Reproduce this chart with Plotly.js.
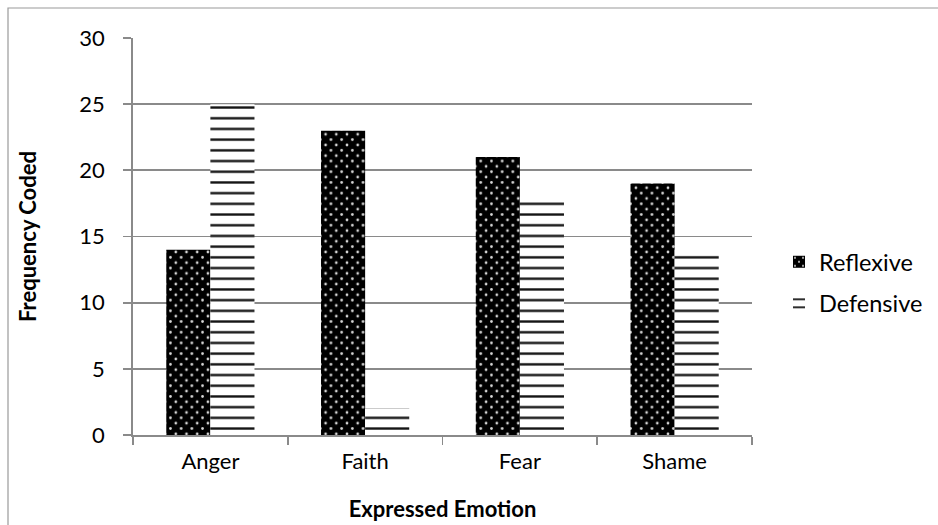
<!DOCTYPE html>
<html>
<head>
<meta charset="utf-8">
<script src="https://cdn.plot.ly/plotly-3.0.1.min.js"></script>
<style>
  html, body { margin: 0; padding: 0; background: #fff; }
  #chart { width: 938px; height: 525px; }
</style>
</head>
<body>
<div id="chart"></div>
<script>
// Expressed emotions and how often each was coded
const emotions = ["Anger", "Faith", "Fear", "Shame"];
const reflexive = [14, 23, 21, 19];
const defensive = [25, 2, 18, 14];
const yTicks = [0, 5, 10, 15, 20, 25, 30];

const FONT = "Lato, 'Open Sans', sans-serif";
const GRID = "#8a8a8a";

// Plot area in pixels, used to place the frame lines in paper units
const L = 133, R = 752, T = 38, B = 435;
const px = x => (x - L) / (R - L);
const py = y => (B - y) / (B - T);

const traces = [
  {
    type: "bar",
    name: "Reflexive",
    x: emotions,
    y: reflexive,
    legendgroup: "r",
    marker: {
      color: "#000000",
      line: { width: 0 },
      pattern: { shape: ".", bgcolor: "#000000", fgcolor: "#d8d8d8", size: 10.7, solidity: 0.05, fillmode: "replace" }
    },
    hoverinfo: "x+y+name"
  },
  {
    type: "bar",
    name: "Defensive",
    x: emotions,
    y: defensive,
    legendgroup: "d",
    marker: {
      color: "#ffffff",
      line: { width: 0 },
      pattern: { shape: "-", bgcolor: "#ffffff", fgcolor: "#111111", size: 10.7, solidity: 0.22, fillmode: "replace" }
    },
    hoverinfo: "x+y+name"
  }
];

const layout = {
  width: 938,
  height: 525,
  margin: { l: L, r: 938 - R, t: T, b: 525 - B, autoexpand: false },
  paper_bgcolor: "#ffffff",
  plot_bgcolor: "#ffffff",
  font: { family: FONT, size: 22, color: "#000000" },
  barmode: "group",
  bargap: 0.43,
  bargroupgap: 0,
  showlegend: true,
  legend: {
    x: px(779),
    y: py(283),
    xanchor: "left",
    yanchor: "middle",
    traceorder: "grouped",
    tracegroupgap: 8,
    font: { family: FONT, size: 23.5 },
    itemwidth: 30
  },
  xaxis: {
    type: "category",
    showline: true,
    linecolor: GRID,
    linewidth: 1.8,
    ticks: "outside",
    tickson: "boundaries",
    ticklen: 8,
    tickcolor: GRID,
    tickwidth: 1.8,
    showgrid: false,
    automargin: false,
    ticklabelstandoff: 6,
    tickfont: { family: FONT, size: 22 },
    title: { text: "<b>Expressed Emotion</b>", font: { family: FONT, size: 22 }, standoff: 28 }
  },
  yaxis: {
    range: [0, 30],
    tickvals: yTicks,
    ticktext: yTicks.map(String),
    showline: true,
    linecolor: GRID,
    linewidth: 1.8,
    ticks: "outside",
    ticklen: 8,
    tickcolor: GRID,
    tickwidth: 1.8,
    showgrid: true,
    gridcolor: GRID,
    gridwidth: 1.8,
    zeroline: false,
    automargin: false,
    ticklabelstandoff: 14,
    tickfont: { family: FONT, size: 22 },
    title: { text: "<b>Frequency Coded</b>", font: { family: FONT, size: 22 }, standoff: 36 }
  },
  shapes: [
    // outer chart frame (left and top edges visible)
    {
      type: "rect", xref: "paper", yref: "paper", layer: "below",
      x0: px(8), x1: px(960), y0: py(545), y1: py(8),
      line: { color: "#9a9a9a", width: 1.2 }, fillcolor: "rgba(0,0,0,0)"
    }
  ]
};

// Turn the single-dot tile into a staggered dot texture by adding corner dots
function staggerDots(gd) {
  gd.querySelectorAll("pattern").forEach(p => {
    const c = p.querySelector("circle");
    if (!c) return;
    const w = parseFloat(p.getAttribute("width"));
    const h = parseFloat(p.getAttribute("height"));
    [[0, 0], [w, 0], [0, h], [w, h]].forEach(([cx, cy]) => {
      const d = c.cloneNode();
      d.setAttribute("cx", cx);
      d.setAttribute("cy", cy);
      p.appendChild(d);
    });
  });
}

Plotly.newPlot("chart", traces, layout, { displayModeBar: false, staticPlot: true })
  .then(gd => staggerDots(gd));
</script>
</body>
</html>
